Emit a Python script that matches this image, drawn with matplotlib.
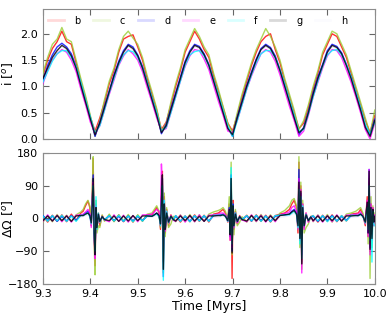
import matplotlib
matplotlib.use('Agg')
import matplotlib.pyplot as plt
import numpy as np

# inclination time grid (Myr)
t_inc = np.round(np.arange(9.30, 10.0001, 0.01), 2)

# inclination [deg] per planet
inc_b = [1.20,1.50,1.72,1.85,2.05,1.85,1.80,1.45,1.10,0.78,0.42,0.15,0.40,0.70,1.05,1.30,1.65,1.90,1.95,1.98,1.75,1.50,1.15,0.85,0.55,0.18,0.32,0.65,1.00,1.30,1.65,1.85,2.05,1.90,1.70,1.55,1.20,0.90,0.60,0.30,0.15,0.45,0.80,1.10,1.40,1.65,1.85,1.95,2.00,1.70,1.45,1.10,0.80,0.50,0.20,0.30,0.60,0.95,1.25,1.60,1.80,2.00,1.95,1.75,1.55,1.25,0.95,0.65,0.35,0.12,0.45]
inc_c = [1.25,1.55,1.80,1.90,2.12,1.90,1.85,1.50,1.15,0.82,0.45,0.05,0.35,0.75,1.10,1.35,1.70,1.95,2.05,1.92,1.80,1.55,1.20,0.90,0.58,0.15,0.30,0.70,1.05,1.35,1.70,1.90,2.10,1.95,1.75,1.60,1.25,0.95,0.62,0.30,0.12,0.50,0.85,1.15,1.45,1.70,1.90,2.10,1.95,1.75,1.50,1.15,0.85,0.55,0.18,0.35,0.65,1.00,1.30,1.65,1.85,2.05,2.00,1.80,1.60,1.30,1.00,0.70,0.40,0.10,0.55]
inc_d = [1.10,1.40,1.60,1.75,1.82,1.75,1.62,1.38,1.05,0.72,0.40,0.05,0.32,0.62,0.92,1.22,1.48,1.68,1.80,1.75,1.60,1.38,1.08,0.78,0.48,0.10,0.28,0.58,0.88,1.18,1.48,1.68,1.80,1.76,1.62,1.42,1.12,0.82,0.52,0.22,0.05,0.42,0.72,1.02,1.28,1.52,1.72,1.80,1.74,1.58,1.32,1.02,0.72,0.42,0.08,0.22,0.52,0.88,1.18,1.42,1.68,1.80,1.76,1.64,1.42,1.18,0.88,0.58,0.25,0.08,0.38]
inc_e = [1.05,1.30,1.50,1.62,1.70,1.65,1.50,1.28,0.95,0.65,0.32,0.10,0.25,0.55,0.85,1.12,1.40,1.58,1.70,1.62,1.50,1.28,0.98,0.70,0.40,0.15,0.20,0.50,0.80,1.10,1.38,1.58,1.70,1.68,1.52,1.32,1.02,0.72,0.45,0.15,0.12,0.35,0.65,0.95,1.20,1.42,1.62,1.70,1.65,1.48,1.22,0.92,0.62,0.35,0.05,0.15,0.45,0.80,1.08,1.35,1.58,1.70,1.68,1.55,1.32,1.08,0.80,0.50,0.18,0.00,0.30]
inc_f = [1.08,1.28,1.48,1.62,1.68,1.68,1.55,1.38,1.08,0.75,0.42,0.12,0.25,0.55,0.88,1.15,1.42,1.60,1.68,1.66,1.55,1.35,1.08,0.78,0.50,0.15,0.22,0.50,0.80,1.10,1.40,1.60,1.66,1.68,1.58,1.40,1.12,0.85,0.55,0.25,0.05,0.35,0.65,0.95,1.22,1.45,1.62,1.68,1.68,1.55,1.32,1.05,0.75,0.45,0.15,0.18,0.48,0.80,1.10,1.38,1.60,1.68,1.70,1.60,1.42,1.18,0.90,0.60,0.28,0.08,0.32]
inc_g = [1.15,1.35,1.55,1.68,1.78,1.72,1.58,1.35,1.02,0.70,0.38,0.08,0.30,0.60,0.90,1.20,1.45,1.65,1.78,1.72,1.58,1.35,1.05,0.75,0.45,0.12,0.25,0.55,0.85,1.15,1.45,1.65,1.78,1.74,1.60,1.40,1.10,0.80,0.50,0.20,0.08,0.40,0.70,1.00,1.25,1.50,1.70,1.78,1.72,1.55,1.30,1.00,0.70,0.40,0.12,0.20,0.50,0.85,1.15,1.40,1.65,1.78,1.74,1.62,1.40,1.15,0.85,0.55,0.22,0.05,0.35]
inc_h = [1.12,1.38,1.58,1.70,1.76,1.70,1.56,1.32,1.00,0.68,0.36,0.10,0.28,0.58,0.88,1.18,1.44,1.62,1.76,1.70,1.56,1.32,1.02,0.72,0.44,0.14,0.24,0.54,0.84,1.14,1.44,1.62,1.76,1.72,1.58,1.38,1.08,0.78,0.48,0.20,0.10,0.38,0.68,0.98,1.24,1.48,1.68,1.76,1.70,1.54,1.28,0.98,0.68,0.38,0.14,0.22,0.48,0.82,1.12,1.38,1.62,1.76,1.72,1.60,1.38,1.12,0.84,0.54,0.22,0.06,0.34]

# node difference time grid (denser round the spikes)
t_node = [9.30,9.31,9.32,9.33,9.34,9.35,9.36,9.37,9.38,
          9.385,9.39,9.395,9.399,9.402,9.404,9.406,9.408,9.410,9.412,9.414,9.417,9.42,9.425,9.43,
          9.44,9.45,9.46,9.47,9.48,9.49,9.50,9.51,9.52,
          9.53,9.535,9.54,9.545,9.548,9.550,9.552,9.554,9.556,9.558,9.561,9.565,9.57,9.575,
          9.58,9.59,9.60,9.61,9.62,9.63,9.64,9.65,9.66,9.67,
          9.675,9.68,9.685,9.69,9.693,9.695,9.697,9.699,9.701,9.703,9.706,9.71,9.715,9.72,
          9.73,9.74,9.75,9.76,9.77,9.78,9.79,9.80,9.81,
          9.82,9.825,9.83,9.835,9.838,9.840,9.842,9.844,9.846,9.848,9.851,9.855,9.86,9.865,
          9.87,9.88,9.89,9.90,9.91,9.92,9.93,9.94,9.95,9.96,
          9.965,9.97,9.975,9.98,9.984,9.986,9.988,9.990,9.992,9.994,9.996,9.998,10.0]

node_b = [8,-10,9,-8,10,-9,12,-6,15,
          20,35,48,30,-20,60,165,-40,-130,40,-30,15,-20,8,-5,
          9,-8,10,-9,8,-10,9,-7,10,
          10,20,30,15,-30,80,130,-120,60,-40,25,-20,10,-5,
          8,-10,7,-9,10,-8,9,-10,12,15,
          20,25,15,-10,40,-60,100,-165,50,-30,20,-15,8,-4,
          9,-8,10,-8,9,-10,8,12,15,
          25,40,50,30,-40,155,-60,90,-120,40,-25,15,-10,5,
          8,-10,9,-8,10,-9,8,-7,12,14,
          15,25,10,-20,60,-50,100,-90,40,-60,30,-15,10]
node_c = [-10,8,-9,11,-7,9,-8,10,18,
          25,40,50,35,-15,70,170,-60,-155,50,-40,-20,-25,10,-8,
          12,-9,10,-7,11,-9,10,-8,12,
          15,25,35,20,-25,60,110,-150,70,-50,30,-25,-15,6,
          -9,10,-8,11,-9,10,-7,12,18,22,
          25,30,20,-5,60,-40,155,-100,40,-45,25,-20,-10,5,
          -10,9,-9,11,-8,10,-7,15,22,
          35,50,55,35,-30,170,-80,100,-140,50,-40,-25,-15,6,
          -9,10,-8,11,-10,9,-8,12,15,20,
          25,30,15,-15,40,-70,110,-165,60,-80,35,-20,15]
node_d = [8,-6,7,-8,6,-7,8,-5,9,
          10,15,20,10,-10,40,120,-30,-100,30,-20,10,-8,5,-3,
          7,-6,6,-8,7,-7,6,-6,7,
          6,10,15,8,-15,50,110,-160,40,-30,15,-10,6,-3,
          7,-7,6,-8,7,-6,7,-7,8,9,
          10,12,8,-6,30,-50,120,-90,40,-20,15,-10,5,-3,
          7,-7,8,-6,7,-8,6,9,10,
          12,20,25,15,-20,135,-50,70,-100,30,-20,10,-6,4,
          6,-8,7,-6,8,-7,6,-5,8,9,
          8,12,6,-10,40,-40,135,-80,30,-50,25,-10,6]
node_e = [-8,10,-7,9,-9,8,-10,9,10,
          12,18,25,15,-25,50,100,-50,-110,35,-25,12,-10,6,-4,
          -9,10,-8,9,-10,8,-9,10,10,
          12,18,25,20,-20,150,90,-80,50,-35,20,-12,8,-5,
          -8,9,-10,8,-9,10,-8,9,10,12,
          15,15,10,-8,25,-60,90,-80,30,-25,15,-12,6,-4,
          -9,10,-8,9,-10,8,-9,10,14,
          18,30,35,20,-30,110,-60,80,-150,40,-30,15,-10,5,
          -8,9,-10,8,-9,10,-7,9,10,12,
          12,18,8,-15,50,-50,135,-100,40,-60,30,-20,10]
node_f = [7,-8,8,-7,9,-8,7,-8,9,
          8,12,15,5,-15,30,90,-40,-90,60,-30,15,-10,5,-4,
          8,-7,9,-8,7,-9,8,-7,8,
          6,10,12,5,-20,40,90,-170,50,-25,20,-12,6,-4,
          8,-8,7,-9,8,-7,8,-8,9,9,
          8,10,6,-8,20,-40,140,-70,35,-20,15,-8,5,-3,
          8,-7,9,-8,7,-9,8,9,10,
          10,15,20,10,-25,80,-70,60,-110,35,-20,12,-6,4,
          8,-7,8,-9,7,-8,8,-7,9,8,
          8,12,5,-12,30,-30,90,-60,25,-120,20,-15,-20]
node_g = [-6,7,-7,8,-6,7,-8,7,8,
          8,12,15,8,-12,35,110,-40,-100,30,-25,12,-8,5,-3,
          -6,7,-8,7,-7,8,-6,7,7,
          6,10,15,8,-15,45,120,-140,40,-30,15,-10,6,-3,
          -7,7,-6,8,-7,6,-8,7,7,8,
          8,10,6,-6,25,-45,110,-95,35,-20,12,-8,5,-3,
          -7,8,-6,7,-8,7,-6,8,10,
          12,18,22,12,-20,100,-55,75,-125,30,-20,10,-6,4,
          -6,7,-8,7,-6,8,-7,7,7,8,
          8,12,6,-10,45,-40,130,-85,30,-55,25,-10,6]
node_h = [2,-3,3,-2,3,-3,2,-2,4,
          6,8,10,5,-8,25,80,-30,-70,20,-15,8,-5,3,-2,
          3,-2,3,-3,2,-3,2,-2,3,
          4,6,10,5,-10,30,80,-90,30,-20,10,-6,4,-2,
          2,-3,2,-3,3,-2,3,-3,3,4,
          5,6,4,-4,15,-30,80,-60,25,-15,8,-5,3,-2,
          2,-3,3,-2,3,-3,2,4,5,
          8,12,15,8,-12,70,-35,50,-80,20,-12,6,-4,2,
          2,-3,3,-2,3,-3,2,-2,3,4,
          5,8,4,-6,30,-25,80,-55,20,-35,15,-6,4]

names = ['b', 'c', 'd', 'e', 'f', 'g', 'h']
colors = ['red', 'yellowgreen', 'blue', 'magenta', 'cyan', 'black', 'lavender']
incs = [inc_b, inc_c, inc_d, inc_e, inc_f, inc_g, inc_h]
nodes = [node_b, node_c, node_d, node_e, node_f, node_g, node_h]

plt.rcParams['font.size'] = 8
fig = plt.figure(figsize=(3.9, 3.13), dpi=100)
ax1 = fig.add_axes([0.110, 0.556, 0.851, 0.415])
ax2 = fig.add_axes([0.110, 0.093, 0.851, 0.418])

for k, (n, c, yi, yn) in enumerate(zip(names, colors, incs, nodes)):
    z = 1 if n == 'h' else 2 + k
    ax1.plot(t_inc, yi, color=c, lw=1.0, alpha=0.8, label=n, zorder=z)
    ax2.plot(t_node, yn, color=c, lw=1.0, alpha=0.8, zorder=z)

leg = ax1.legend(loc='upper center', bbox_to_anchor=(0.467, 1.0), ncol=7,
                 frameon=False, fontsize=7, handlelength=1.6,
                 columnspacing=1.3, handletextpad=1.1, borderaxespad=0.3)
for lh in leg.get_lines():
    lh.set_alpha(0.15)
    lh.set_linewidth(2)

for ax in (ax1, ax2):
    ax.set_xlim(9.3, 10.0)
    ax.set_xticks(np.round(np.arange(9.3, 10.01, 0.1), 1))
    ax.tick_params(direction='in', top=True, right=True, length=4,
                   color='0.4', labelsize=8)
    for s in ax.spines.values():
        s.set_color('0.55')

ax1.set_ylim(0, 2.47)
ax1.set_yticks([0.0, 0.5, 1.0, 1.5, 2.0])
ax1.set_xticklabels([])
ax1.set_ylabel(r'i [$^o$]', fontsize=9)
ax1.yaxis.set_label_coords(-0.085, 0.5)

ax2.set_ylim(-180, 180)
ax2.set_yticks([-180, -90, 0, 90, 180])
ax2.set_ylabel(r'$\Delta\Omega$ [$^o$]', fontsize=9)
ax2.yaxis.set_label_coords(-0.085, 0.5)
ax2.set_xlabel('Time [Myrs]', fontsize=9, labelpad=1)

fig.savefig('out.png', dpi=100)
